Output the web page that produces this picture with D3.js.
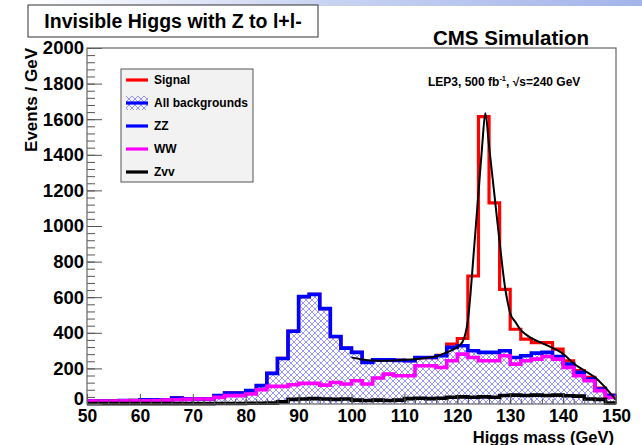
<!DOCTYPE html>
<html>
<head>
<meta charset="utf-8">
<script src="https://cdn.jsdelivr.net/npm/d3@7"></script>
<style>
  body { margin: 0; background: #fff; }
  svg { display: block; }
  text { font-family: "Liberation Sans", Arial, Helvetica, sans-serif; font-weight: bold; fill: #000; }
</style>
</head>
<body>
<svg id="chart" width="642" height="445"></svg>
<script>
// Lower edges of the 2 GeV mass bins
const binLow = [50,52,54,56,58,60,62,64,66,68,70,72,74,76,78,80,82,84,86,88,
                90,92,94,96,98,100,102,104,106,108,110,112,114,116,118,120,122,124,126,128,
                130,132,134,136,138,140,142,144,146,148];
const binWidth = 2;

// Background components, events / GeV per bin
const zvv = [2,2,2,2,2,2,2,2,2,2,2,2,3,3,3,4,4,5,12,26,
             28,30,28,26,28,22,20,22,20,22,30,32,30,32,38,40,38,40,38,48,
             50,48,50,48,50,46,44,28,26,6];
const ww  = [14,14,15,16,16,16,18,20,22,24,26,26,34,44,44,52,76,94,87,82,
             88,86,78,95,84,109,92,124,148,137,129,183,185,173,205,240,223,203,205,223,
             174,195,202,219,202,160,115,103,49,31];
const zz  = [1,1,0,1,2,5,3,1,10,3,1,1,10,15,15,19,23,73,157,301,
             487,500,430,258,202,159,122,102,80,86,84,46,46,66,75,47,38,47,47,28,
             37,28,34,23,15,18,19,9,9,10];
// Signal (ZH, H -> invisible), stacked on top of all backgrounds
const signal = [0,0,0,0,0,0,0,0,0,0,0,0,0,0,0,0,0,0,0,0,
                0,0,0,0,0,0,0,0,0,0,0,0,0,3,18,41,420,1325,840,345,
                159,93,59,55,41,19,9,10,6,3];

// Fitted signal + background shape: [mass, events / GeV]
const fitMass   = [100,102,104,106,108,110,112,114,116,118,120,121,121.5,122,122.5,123,124,124.7,125.3,
                   126,127,128,129,129.6,130,131,132,133,134,136,138,140,142,144,146,148,150];
const fitEvents = [262,250,244,243,245,248,252,258,268,290,320,350,390,470,620,810,1185,1450,1634,
                   1450,1180,910,660,560,510,460,415,390,370,342,315,282,228,188,150,92,22];

const xTicks = [50,60,70,80,90,100,110,120,130,140,150];
const yTicks = [0,200,400,600,800,1000,1200,1400,1600,1800,2000];

const legendItems = [
  { label: "Signal",          color: "#ff0000", kind: "line" },
  { label: "All backgrounds", color: "#0000ff", kind: "hatch" },
  { label: "ZZ",              color: "#0000ff", kind: "line" },
  { label: "WW",              color: "#ff00ff", kind: "line" },
  { label: "Zvv",             color: "#000000", kind: "line" }
];

// Stacked levels
const lvlZvv = zvv;
const lvlWW = zvv.map((v, i) => v + ww[i]);
const lvlAll = lvlWW.map((v, i) => v + zz[i]);
const lvlSig = lvlAll.map((v, i) => v + signal[i]);

const svg = d3.select("#chart");
const W = 642, H = 445;
const plot = { left: 87, right: 616, top: 48, bottom: 404 };

const x = d3.scaleLinear().domain([50, 150]).range([plot.left, plot.right]);
const y = d3.scaleLinear().domain([0, 2000]).range([plot.bottom, plot.top]);

const defs = svg.append("defs");

// slide header strip
const grad = defs.append("linearGradient").attr("id", "strip").attr("x1", "0").attr("x2", "1");
grad.append("stop").attr("offset", "0.05").attr("stop-color", "#ffffff");
grad.append("stop").attr("offset", "0.5").attr("stop-color", "#c9d3f2");
grad.append("stop").attr("offset", "1").attr("stop-color", "#a3b4ea");
svg.append("rect").attr("x", 0).attr("y", 0).attr("width", W).attr("height", 6).attr("fill", "url(#strip)");

// cross-hatch used for the summed backgrounds
const pat = defs.append("pattern").attr("id", "hatch").attr("patternUnits", "userSpaceOnUse")
  .attr("width", 6).attr("height", 6);
pat.append("path").attr("d", "M0,0 L6,6 M6,0 L0,6 M-1,5 L1,7 M5,-1 L7,1 M5,7 L7,5 M-1,1 L1,-1")
  .attr("stroke", "#6a6aff").attr("stroke-width", 0.7).attr("fill", "none");

// step outline for a binned histogram
function stepPoints(vals) {
  const pts = [];
  binLow.forEach((lo, i) => {
    pts.push([lo, vals[i]]);
    pts.push([lo + binWidth, vals[i]]);
  });
  return pts;
}
const stepLine = d3.line().x(d => x(d[0])).y(d => y(d[1]));
const stepArea = d3.area().x(d => x(d[0])).y0(y(0)).y1(d => y(d[1]));

// hatched area under all backgrounds
svg.append("path").datum(stepPoints(lvlAll)).attr("d", stepArea)
  .attr("fill", "url(#hatch)").attr("stroke", "none");

// signal on top of backgrounds
svg.append("path").datum(stepPoints(lvlSig)).attr("d", stepLine)
  .attr("fill", "none").attr("stroke", "#ff0000").attr("stroke-width", 3.2);

// ZZ (stack total)
svg.append("path").datum(stepPoints(lvlAll)).attr("d", stepLine)
  .attr("fill", "none").attr("stroke", "#0000ff").attr("stroke-width", 3.6);

// WW
svg.append("path").datum(stepPoints(lvlWW)).attr("d", stepLine)
  .attr("fill", "none").attr("stroke", "#ff00ff").attr("stroke-width", 3.6);

// Zvv
svg.append("path").datum(stepPoints(lvlZvv)).attr("d", stepLine)
  .attr("fill", "none").attr("stroke", "#000000").attr("stroke-width", 3.6);

// fit curve
const fitLine = d3.line().x(d => x(d[0])).y(d => y(d[1])).curve(d3.curveMonotoneX);
svg.append("path").datum(fitMass.map((m, i) => [m, fitEvents[i]])).attr("d", fitLine)
  .attr("fill", "none").attr("stroke", "#000").attr("stroke-width", 2);

// axes (ticks point into the frame)
const axisColor = "#555";
const xMinor = d3.range(50, 151, 2);
const yMinor = d3.range(0, 2001, 40);

const gxMinor = svg.append("g").attr("transform", `translate(0,${plot.bottom})`)
  .call(d3.axisBottom(x).tickValues(xMinor).tickSize(-5).tickFormat(""));
const gx = svg.append("g").attr("transform", `translate(0,${plot.bottom})`)
  .call(d3.axisBottom(x).tickValues(xTicks).tickSize(-10).tickPadding(6).tickFormat(d3.format("d")));
const gyMinor = svg.append("g").attr("transform", `translate(${plot.left},0)`)
  .call(d3.axisLeft(y).tickValues(yMinor).tickSize(-8).tickFormat(""));
const gy = svg.append("g").attr("transform", `translate(${plot.left},0)`)
  .call(d3.axisLeft(y).tickValues(yTicks).tickSize(-15).tickPadding(3).tickFormat(d3.format("d")));

[gxMinor, gx, gyMinor, gy].forEach(g => {
  g.select(".domain").remove();
  g.selectAll(".tick line").attr("stroke", axisColor).attr("stroke-width", 1);
  g.selectAll("text").attr("fill", "#000")
    .attr("font-family", "Liberation Sans, Arial, sans-serif").attr("font-weight", "bold");
});
gy.selectAll("text").attr("font-size", 18.5);
gx.selectAll("text").attr("font-size", 17.5);
// the "0" label sits just above the first mass label
gy.selectAll(".tick text").filter(d => d === 0).attr("dy", "0.02em");

// frame
svg.append("rect").attr("x", plot.left).attr("y", plot.top)
  .attr("width", plot.right - plot.left).attr("height", plot.bottom - plot.top)
  .attr("fill", "none").attr("stroke", "#666").attr("stroke-width", 1.2);

// axis titles
svg.append("text").attr("x", plot.right - 2).attr("y", 442.5).attr("text-anchor", "end")
  .attr("font-size", 16.5).text("Higgs mass (GeV)");
svg.append("text").attr("transform", `translate(37,${plot.top}) rotate(-90)`)
  .attr("text-anchor", "end").attr("font-size", 17).text("Events / GeV");

// title box
svg.append("rect").attr("x", 28).attr("y", 5).attr("width", 290).attr("height", 32)
  .attr("fill", "#fff").attr("stroke", "#333").attr("stroke-width", 1);
svg.append("text").attr("x", 173).attr("y", 28).attr("text-anchor", "middle")
  .attr("font-size", 19.5).text("Invisible Higgs with Z to l+l-");

svg.append("text").attr("x", 589).attr("y", 45).attr("text-anchor", "end")
  .attr("font-size", 20.5).text("CMS Simulation");

// beam / luminosity note
const note = svg.append("text").attr("x", 428).attr("y", 86).attr("font-size", 12);
note.append("tspan").text("LEP3, 500 fb");
note.append("tspan").attr("font-size", 7.5).attr("dy", -5).text("-1");
note.append("tspan").attr("dy", 5).text(",  \u221As=240 GeV");

// legend
const lg = svg.append("g");
lg.append("rect").attr("x", 121).attr("y", 69).attr("width", 132).attr("height", 113)
  .attr("fill", "#f2f2f2").attr("stroke", "#555").attr("stroke-width", 1);
legendItems.forEach((it, i) => {
  const cy = 80 + i * 23;
  if (it.kind === "hatch") {
    lg.append("rect").attr("x", 126).attr("y", cy - 7).attr("width", 22).attr("height", 14)
      .attr("fill", "url(#hatch)");
  }
  lg.append("line").attr("x1", 126).attr("x2", 148).attr("y1", cy).attr("y2", cy)
    .attr("stroke", it.color).attr("stroke-width", 3.2);
  lg.append("text").attr("x", 154).attr("y", cy + 4).attr("font-size", 12).text(it.label);
});
</script>
</body>
</html>
